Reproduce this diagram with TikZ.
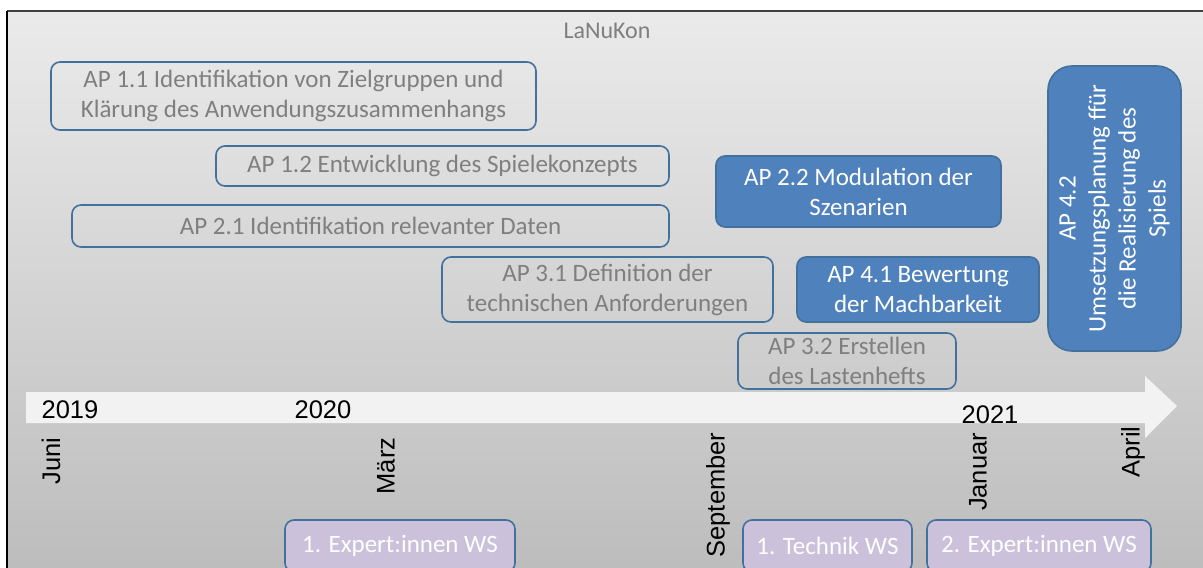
\documentclass[tikz,border=0pt]{standalone}
\usepackage{fontspec}
\setmainfont{Carlito}
\newfontfamily\arialf{Liberation Sans}
\definecolor{boxline}{HTML}{41719C}
\definecolor{boxfill}{HTML}{4F81BD}
\definecolor{txtgray}{HTML}{7F7F7F}
\definecolor{lav}{HTML}{CCC1DA}
\definecolor{arrowc}{HTML}{F2F2F2}
\tikzset{
  ap/.style={draw=boxline, line width=1.6pt, rounded corners=9pt, inner sep=0pt, align=center,
    text=txtgray, font=\fontsize{25}{30}\selectfont},
  apf/.style={ap, fill=boxfill, text=white},
  ws/.style={ap, fill=lav, text=white},
  month/.style={font=\arialf\fontsize{25.5}{30}\selectfont, rotate=90, inner sep=0pt},
  year/.style={font=\arialf\fontsize{25.5}{30}\selectfont, inner sep=0pt}
}
\begin{document}
\begin{tikzpicture}[x=1pt,y=-1pt]
\useasboundingbox (0,0) rectangle (1203,568);
\clip (0,0) rectangle (1203,568);
\shade[top color=white!92!black, bottom color=white!74!black] (7,11) rectangle (1203,568);
\draw[line width=1.5pt, black!75] (7,11) -- (1203,11);
\draw[line width=1.5pt, black] (7,11) -- (7,568);
% timeline arrow
\fill[arrowc] (26,392) -- (1145,392) -- (1145,376) -- (1177,406) -- (1145,438) -- (1145,423) -- (26,423) -- cycle;
\node[font=\fontsize{24}{28}\selectfont, text=txtgray] (title) at (607,31) {LaNuKon};
% work packages
\node[ap, minimum width=485pt, minimum height=68pt] (ap11) at (293.5,96) {AP 1.1 Identifikation von Zielgruppen und\\Klärung des Anwendungszusammenhangs};
\node[ap, minimum width=453pt, minimum height=40pt] (ap12) at (442.5,166) {AP 1.2 Entwicklung des Spielekonzepts};
\node[ap, minimum width=597pt, minimum height=42pt] (ap21) at (370.5,226) {AP 2.1 Identifikation relevanter Daten};
\node[ap, minimum width=331pt, minimum height=65pt] (ap31) at (607.5,289.5) {AP 3.1 Definition der\\technischen Anforderungen};
\node[ap, minimum width=218pt, minimum height=56pt] (ap32) at (847,361) {AP 3.2 Erstellen\\des Lastenhefts};
\node[apf, minimum width=285pt, minimum height=71pt] (ap22) at (858.5,191.5) {AP 2.2 Modulation der\\Szenarien};
\node[apf, minimum width=242pt, minimum height=65pt] (ap41) at (918,289.5) {AP 4.1 Bewertung\\der Machbarkeit};
\node[apf, rotate=90, rounded corners=24pt, minimum width=285pt, minimum height=133pt] (ap42) at (1114.5,208.5) {AP 4.2\\Umsetzungsplanung ffür\\die Realisierung des\\Spiels};
% years
\node[year] (y19) at (70,410) {2019};
\node[year] (y20) at (323,410) {2020};
\node[year] (y21) at (990,415) {2021};
% months
\node[month] (m1) at (51,461) {Juni};
\node[month] (m2) at (386,466) {März};
\node[month] (m3) at (718,495) {September};
\node[month] (m4) at (978,472) {Januar};
\node[month] (m5) at (1133,452) {April};
% workshops
\node[ws, minimum width=230pt, minimum height=52pt] (ws1) at (400,546) {1. Expert:innen WS};
\node[ws, minimum width=169pt, minimum height=52pt] (ws2) at (827.5,546) {1. Technik WS};
\node[ws, minimum width=224pt, minimum height=52pt] (ws3) at (1039,546) {2. Expert:innen WS};
\end{tikzpicture}
\end{document}
